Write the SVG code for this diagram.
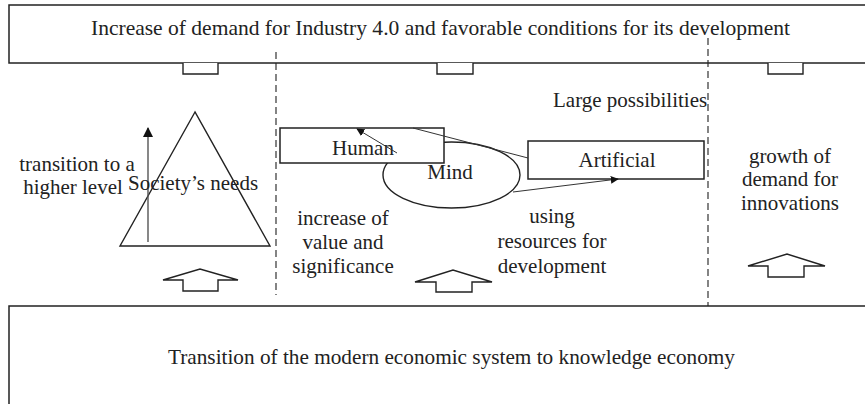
<svg xmlns="http://www.w3.org/2000/svg" width="865" height="404" viewBox="0 0 865 404">
  <style>
    text { font-family: "Liberation Serif", "DejaVu Serif", "Times New Roman", serif; font-size: 21px; fill: #222; }
    .c { text-anchor: middle; }
    .box { fill: #fff; stroke: #222; stroke-width: 1.5; }
    .shape { fill: #fff; stroke: #222; stroke-width: 1.4; }
    .dash { stroke: #333; stroke-width: 1.2; stroke-dasharray: 7 4; fill: none; }
    .thin { stroke: #333; stroke-width: 1; fill: none; }
  </style>
  <defs>
    <marker id="head" viewBox="0 0 10 10" refX="9" refY="5" markerWidth="8" markerHeight="8" orient="auto" markerUnits="userSpaceOnUse">
      <path d="M0,0 L10,5 L0,10 z" fill="#111"/>
    </marker>
    <marker id="headBig" viewBox="0 0 10 10" refX="9" refY="5" markerWidth="10" markerHeight="10" orient="auto" markerUnits="userSpaceOnUse">
      <path d="M0,0 L10,5 L0,10 z" fill="#111"/>
    </marker>
  </defs>

  <rect width="865" height="404" fill="#fff"/>

  <!-- separators -->
  <g id="separators">
    <line class="dash" x1="276" y1="52" x2="276" y2="295"/>
    <line class="dash" x1="708" y1="38" x2="708" y2="306"/>
  </g>

  <!-- top banner -->
  <g id="top-box">
    <rect class="box" x="9" y="5" width="870" height="58" style="fill:none"/>
    <text x="91" y="35" style="font-size:21.5px" textLength="699" lengthAdjust="spacingAndGlyphs">Increase of demand for Industry 4.0 and favorable conditions for its development</text>
  </g>

  <!-- stubs of arrows entering the banner -->
  <g id="top-stubs">
    <path class="shape" d="M183,63 V74 H218 V63"/>
    <path class="shape" d="M437,63 V74 H473 V63"/>
    <path class="shape" d="M768,63 V74 H803 V63"/>
  </g>

  <!-- left column -->
  <g id="society">
    <polygon class="shape" points="195,112 120,246 270,246" style="fill:none"/>
    <line x1="148" y1="242" x2="148" y2="128" stroke="#555" stroke-width="1.4" marker-end="url(#headBig)"/>
    <text x="128" y="190">Society’s needs</text>
    <text class="c" x="77" y="171">transition to a</text>
    <text class="c" x="73" y="194">higher level</text>
  </g>

  <!-- middle column -->
  <g id="mind">
    <ellipse class="shape" cx="451.5" cy="175" rx="68.5" ry="33"/>
    <text class="c" x="450" y="179">Mind</text>
  </g>
  <g id="human">
    <rect class="box" x="280" y="128" width="164" height="35"/>
    <text class="c" x="363" y="155">Human</text>
  </g>
  <g id="artificial">
    <rect class="box" x="528" y="141" width="176" height="38"/>
    <text class="c" x="617" y="167">Artificial</text>
  </g>

  <g id="connectors">
    <line class="thin" x1="397" y1="153" x2="357" y2="129" marker-end="url(#head)"/>
    <line class="thin" x1="413" y1="128" x2="528" y2="158"/>
    <line class="thin" x1="513" y1="192" x2="618" y2="179" marker-end="url(#head)"/>
  </g>

  <g id="labels">
    <text x="553" y="107">Large possibilities</text>
    <text class="c" x="343" y="225">increase of</text>
    <text class="c" x="343" y="249">value and</text>
    <text class="c" x="343" y="273">significance</text>
    <text class="c" x="552" y="223">using</text>
    <text class="c" x="552" y="248">resources for</text>
    <text class="c" x="552" y="273">development</text>
    <text class="c" x="790" y="163">growth of</text>
    <text class="c" x="790" y="186">demand for</text>
    <text class="c" x="790" y="210">innovations</text>
  </g>

  <!-- hollow up arrows -->
  <g id="up-arrows">
    <polygon class="shape" points="163,280 200,269 238,280 218,280 218,291 183,291 183,280"/>
    <polygon class="shape" points="415,282 453,270 492,282 472,282 472,292 436,292 436,282"/>
    <polygon class="shape" points="748,266 787,254 825,266 804,266 804,277 768,277 768,266"/>
  </g>

  <!-- bottom banner -->
  <g id="bottom-box">
    <rect class="box" x="9" y="306" width="870" height="110"/>
    <text x="168" y="364" textLength="567" lengthAdjust="spacingAndGlyphs">Transition of the modern economic system to knowledge economy</text>
  </g>
</svg>
